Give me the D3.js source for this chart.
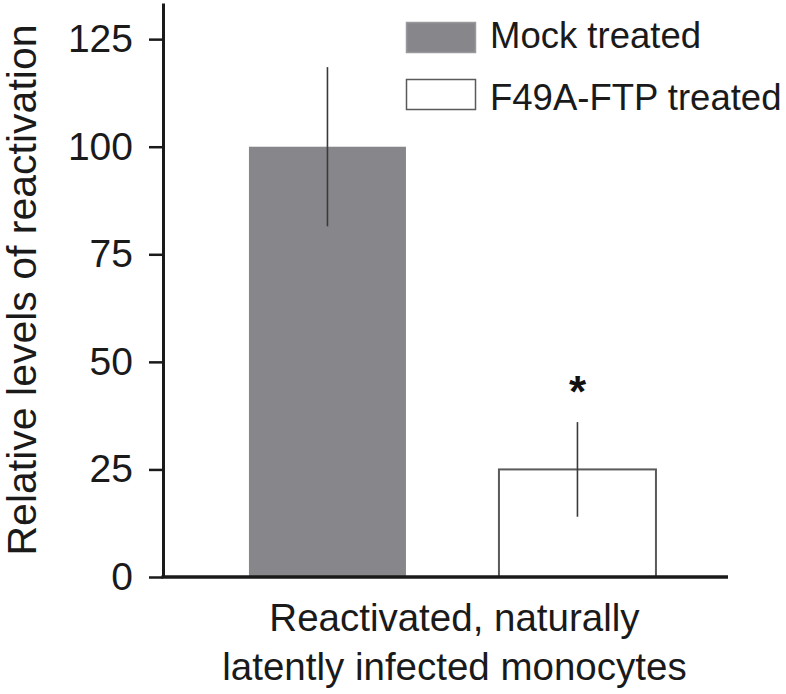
<!DOCTYPE html>
<html>
<head>
<meta charset="utf-8">
<script src="https://cdn.jsdelivr.net/npm/d3@7"></script>
<style>
  html, body { margin: 0; padding: 0; background: #fff; }
  svg { display: block; font-family: "Liberation Sans", Arial, Helvetica, sans-serif; }
</style>
</head>
<body>
<script>
// ---- data ----
const categories = ["Mock treated", "F49A-FTP treated"];
const values = [100, 25];
const errors = [18.5, 11];
const significance = ["", "*"];
const yTicks = [0, 25, 50, 75, 100, 125];
const yTitle = "Relative levels of reactivation";
const xTitleLines = ["Reactivated, naturally", "latently infected monocytes"];

// ---- layout ----
const W = 786, H = 694;
const svg = d3.select("body").append("svg").attr("width", W).attr("height", H);

const y = d3.scaleLinear().domain([0, 133.4]).range([577, 3]);
const x = d3.scaleBand().domain(categories).range([163, 728])
  .paddingInner(0.372).paddingOuter(0.316).align(0.544);

const fills = ["#87878b", "#ffffff"];
const strokes = ["none", "#5a5a5a"];

// bars
svg.selectAll("rect.bar").data(categories).join("rect")
  .attr("class", "bar")
  .attr("x", d => x(d))
  .attr("width", x.bandwidth())
  .attr("y", (d, i) => y(values[i]))
  .attr("height", (d, i) => y(0) - y(values[i]))
  .attr("fill", (d, i) => fills[i])
  .attr("stroke", (d, i) => strokes[i])
  .attr("stroke-width", 2);

// error bars
svg.selectAll("line.err").data(categories).join("line")
  .attr("class", "err")
  .attr("x1", d => x(d) + x.bandwidth() / 2)
  .attr("x2", d => x(d) + x.bandwidth() / 2)
  .attr("y1", (d, i) => y(values[i] + errors[i]))
  .attr("y2", (d, i) => y(values[i] - errors[i]))
  .attr("stroke", "#3a3a3a")
  .attr("stroke-width", 1.6);

// significance
svg.selectAll("text.sig").data(categories).join("text")
  .attr("class", "sig")
  .attr("x", d => x(d) + x.bandwidth() / 2)
  .attr("y", (d, i) => y(values[i] + errors[i]) - 15)
  .attr("text-anchor", "middle")
  .attr("font-size", 44)
  .attr("font-weight", "bold")
  .attr("fill", "#111")
  .text((d, i) => significance[i]);

// y axis
const yAxis = d3.axisLeft(y).tickValues(yTicks).tickSizeInner(14).tickSizeOuter(0).tickPadding(16);
const gy = svg.append("g").attr("transform", "translate(163,0)").call(yAxis);
gy.select(".domain").attr("stroke", "#1a1a1a").attr("stroke-width", 3);
gy.selectAll(".tick line").attr("stroke", "#1a1a1a").attr("stroke-width", 2.5);
gy.selectAll(".tick text").attr("font-size", 39).attr("fill", "#1a1a1a")
  .attr("font-family", "Liberation Sans, Arial, sans-serif");

// x axis line
const gx = svg.append("g").attr("transform", "translate(0,577)")
  .call(d3.axisBottom(x).tickSize(0).tickFormat(""));
gx.select(".domain").attr("stroke", "#1a1a1a").attr("stroke-width", 3.5)
  .attr("d", "M161.5,0H728");

// y title
svg.append("text")
  .attr("transform", "translate(36,290) rotate(-90)")
  .attr("text-anchor", "middle")
  .attr("font-size", 41)
  .attr("fill", "#1a1a1a")
  .text(yTitle);

// x title
const xc = (x(categories[0]) + x(categories[1]) + x.bandwidth()) / 2;
svg.append("g").selectAll("text").data(xTitleLines).join("text")
  .attr("x", xc + 2)
  .attr("y", (d, i) => 631 + i * 49)
  .attr("text-anchor", "middle")
  .attr("font-size", 38.5)
  .attr("fill", "#1a1a1a")
  .text(d => d);

// legend
const legY = [22, 79];
const legTextY = [48, 110];
const leg = svg.append("g");
leg.selectAll("rect").data(categories).join("rect")
  .attr("x", 406.5).attr("y", (d, i) => legY[i] + 0.5)
  .attr("width", 69).attr("height", 30)
  .attr("fill", (d, i) => fills[i])
  .attr("stroke", (d, i) => i === 0 ? "#9a9a9e" : "#5a5a5a")
  .attr("stroke-width", 1.5);
leg.selectAll("text").data(categories).join("text")
  .attr("x", 490).attr("y", (d, i) => legTextY[i])
  .attr("font-size", 36.5)
  .attr("fill", "#1a1a1a")
  .text(d => d);
</script>
</body>
</html>
